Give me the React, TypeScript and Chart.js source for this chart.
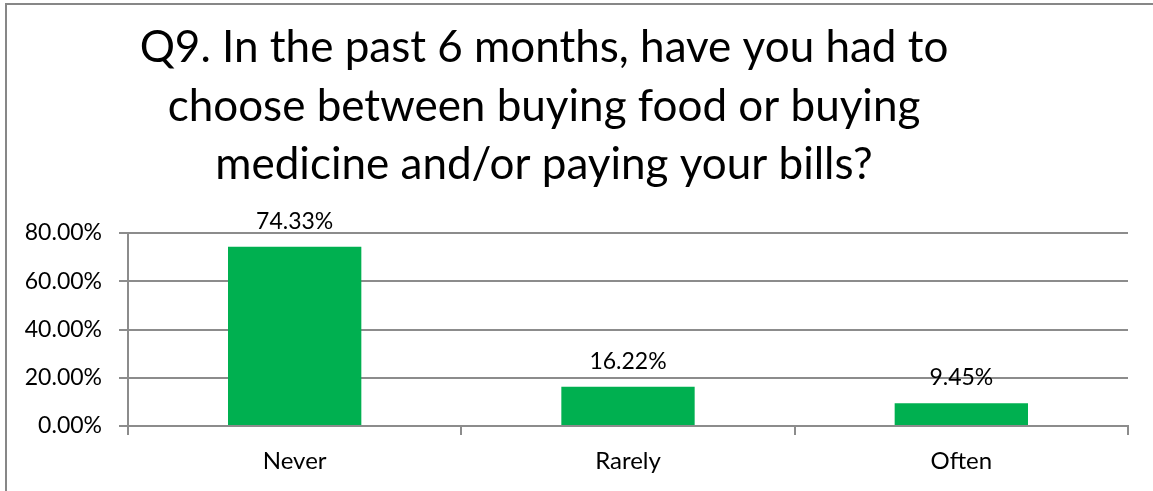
import React, { useEffect, useRef } from "react";
import { Chart, registerables } from "chart.js";

Chart.register(...registerables);

const categories = ["Never", "Rarely", "Often"];
const values = [74.33, 16.22, 9.45];
const titleLines = [
  "Q9. In the past 6 months, have you had to",
  "choose between buying food or buying",
  "medicine and/or paying your bills?",
];
const yMin = 0;
const yMax = 80;
const yStep = 20;

const FONT = "Lato, 'Open Sans', sans-serif";
const GRID = "#8c8c8c";

export default function App() {
  const ref = useRef<HTMLCanvasElement | null>(null);
  useEffect(() => {
    document.body.style.margin = "0";
    const canvas = ref.current!;
    const framePlugin = {
      id: "frameAndTitle",
      beforeDraw(chart: any) {
        const ctx = chart.ctx;
        ctx.save();
        ctx.fillStyle = "#ffffff";
        ctx.fillRect(0, 0, chart.width, chart.height);
        ctx.strokeStyle = "#878787";
        ctx.lineWidth = 2;
        ctx.strokeRect(6, 4, 3000, 3000);
        ctx.restore();
      },
      afterDraw(chart: any) {
        const ctx = chart.ctx;
        ctx.save();
        ctx.fillStyle = "#000000";
        ctx.font = `44px ${FONT}`;
        ctx.textAlign = "center";
        ctx.textBaseline = "alphabetic";
        const ys = [62, 121, 179];
        titleLines.forEach((t, i) => ctx.fillText(t, 544, ys[i]));
        // data labels
        const meta = chart.getDatasetMeta(0);
        ctx.font = `23px ${FONT}`;
        ctx.textBaseline = "alphabetic";
        meta.data.forEach((bar: any, i: number) => {
          ctx.fillText(values[i].toFixed(2) + "%", bar.x, bar.y - 18);
        });
        ctx.restore();
      },
    };
    const chart = new Chart(canvas, {
      type: "bar",
      data: {
        labels: categories,
        datasets: [
          {
            data: values,
            backgroundColor: "#00b050",
            borderWidth: 0,
            categoryPercentage: 1,
            barPercentage: 0.4,
          },
        ],
      },
      options: {
        responsive: false,
        animation: false,
        layout: { padding: { top: 233, right: 25, bottom: 0, left: 0 } },
        plugins: {
          legend: { display: false },
          title: { display: false },
          tooltip: { enabled: false },
        },
        scales: {
          x: {
            afterFit: (s: any) => {
              s.height = 65;
            },
            grid: {
              display: true,
              drawOnChartArea: false,
              offset: true,
              tickLength: 9,
              color: GRID,
              lineWidth: 2,
            },
            border: { display: true, color: GRID, width: 2 },
            ticks: {
              color: "#000000",
              font: { family: FONT, size: 24 },
              padding: 12,
            },
          },
          y: {
            min: yMin,
            max: yMax,
            afterFit: (s: any) => {
              s.width = 128;
            },
            grid: {
              color: GRID,
              lineWidth: 2,
              tickLength: 9,
            },
            border: { display: true, color: GRID, width: 2 },
            ticks: {
              stepSize: yStep,
              color: "#000000",
              font: { family: FONT, size: 23 },
              padding: 17,
              callback: (v: any) => Number(v).toFixed(2) + "%",
            },
          },
        },
      },
      plugins: [framePlugin],
    });
    return () => chart.destroy();
  }, []);
  return (
    <div style={{ position: "absolute", left: 0, top: 0, width: 1153, height: 491 }}>
      <canvas ref={ref} width={1153} height={491} style={{ display: "block" }} />
    </div>
  );
}
